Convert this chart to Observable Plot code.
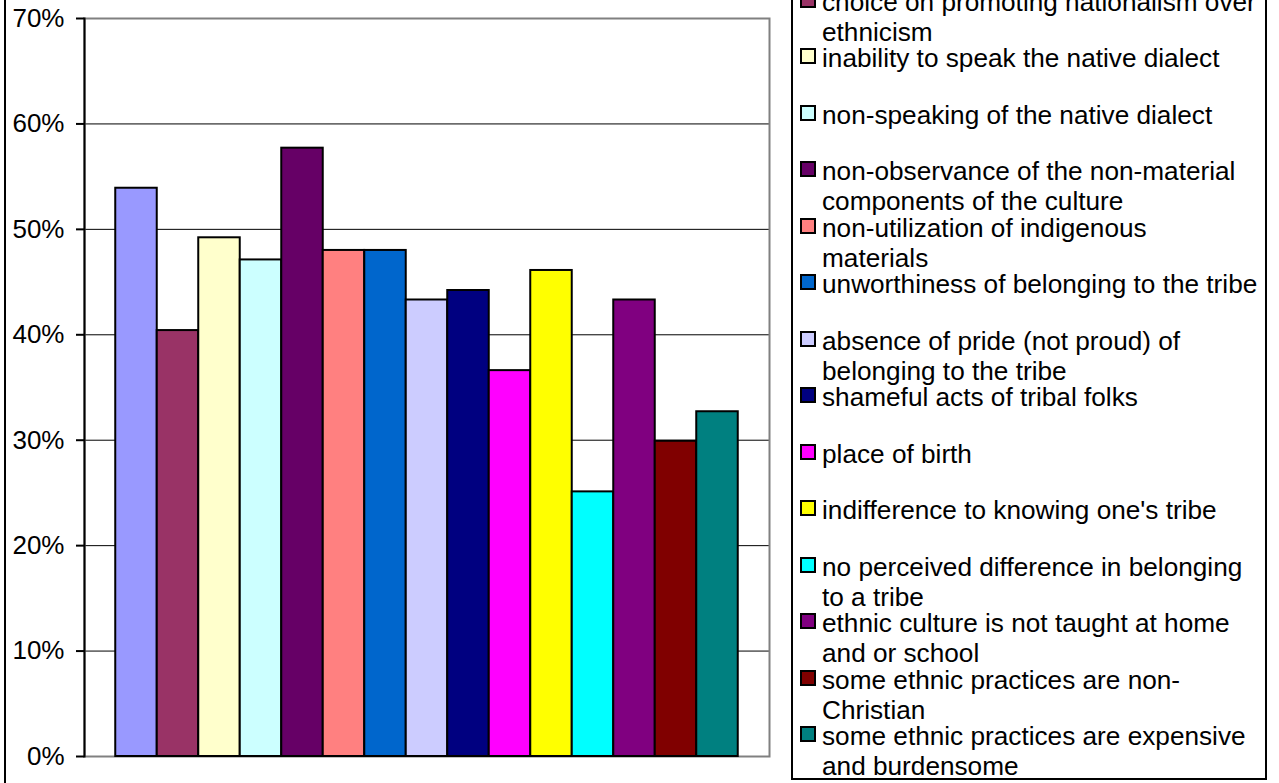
<!DOCTYPE html>
<html>
<head>
<meta charset="utf-8">
<script src="https://cdn.jsdelivr.net/npm/d3@7"></script>
<script src="https://cdn.jsdelivr.net/npm/@observablehq/plot@0.6"></script>
<style>
  html, body { margin: 0; padding: 0; background: #fff; overflow: hidden; }
  body { width: 1279px; height: 783px; position: relative; font-family: "Liberation Sans", Arial, sans-serif; }
  #chart { position: absolute; left: 0; top: 0; }
  #outer { position: absolute; left: 4px; top: -10px; width: 2px; height: 800px; background: #000; }
  #legend { position: absolute; left: 791px; top: -90px; width: 476px; height: 870px; box-sizing: border-box;
            border: 2px solid #000; background: #fff; }
  .item { position: absolute; left: 0; width: 470px; }
  .swatch { position: absolute; left: 7px; top: 5px; width: 16px; height: 16px; box-sizing: border-box; border: 2px solid #000; }
  .label { position: absolute; left: 29px; top: 0; width: 437px; font-size: 26.2px; line-height: 30px; color: #000; }
</style>
</head>
<body>
<div id="outer"></div>
<div id="chart"></div>
<div id="legend"></div>
<script>
// ---- data ----
const labels = [
  "",
  "choice on promoting nationalism over ethnicism",
  "inability to speak the native dialect",
  "non-speaking of the native dialect",
  "non-observance of the non-material components of the culture",
  "non-utilization of indigenous materials",
  "unworthiness of belonging to the tribe",
  "absence of pride (not proud) of belonging to the tribe",
  "shameful acts of tribal folks",
  "place of birth",
  "indifference to knowing one's tribe",
  "no perceived difference in belonging to a tribe",
  "ethnic culture is not taught at home and or school",
  "some ethnic practices are non-Christian",
  "some ethnic practices are expensive and burdensome"
];
const values = [0.539, 0.404, 0.492, 0.471, 0.577, 0.480, 0.480, 0.433, 0.442, 0.366, 0.461, 0.251, 0.433, 0.299, 0.327];
const colors = ["#9999FF", "#993366", "#FFFFCC", "#CCFFFF", "#660066", "#FF8080", "#0066CC", "#CCCCFF",
                "#000080", "#FF00FF", "#FFFF00", "#00FFFF", "#800080", "#800000", "#008080"];
const yTicks = [0, 0.1, 0.2, 0.3, 0.4, 0.5, 0.6, 0.7];
const gridTicks = [0.1, 0.2, 0.3, 0.4, 0.5, 0.6];

const data = values.map((v, i) => ({i, v, color: colors[i], label: labels[i]}));

const chart = Plot.plot({
  width: 790,
  height: 783,
  marginLeft: 84,
  marginRight: 21,
  marginTop: 18,
  marginBottom: 27,
  style: {fontFamily: "'Liberation Sans', Arial, sans-serif", fontSize: "26px", color: "#000", background: "transparent", overflow: "visible"},
  x: {type: "band", domain: data.map(d => d.i), paddingInner: 0, paddingOuter: 0.753, round: false, axis: null},
  y: {domain: [0, 0.7], axis: null},
  color: {type: "identity"},
  marks: [
    Plot.ruleY(gridTicks, {stroke: "#000", strokeWidth: 1}),
    Plot.frame({stroke: "#808080", strokeWidth: 2}),
    Plot.frame({anchor: "left", stroke: "#000", strokeWidth: 2}),
    Plot.axisY({ticks: yTicks, tickFormat: d3.format(".0%"), tickSize: 8, tickPadding: 12, strokeWidth: 2, stroke: "#000", label: null, fontSize: 26}),
    Plot.barY(data, {x: "i", y: "v", fill: "color", stroke: "#000", strokeWidth: 2, inset: 0})
  ]
});
document.getElementById("chart").appendChild(chart);

// ---- legend ----
const legend = document.getElementById("legend");
data.forEach((d, k) => {
  const item = document.createElement("div");
  item.className = "item";
  item.style.top = (18 + 56.5 * k) + "px";
  const sw = document.createElement("div");
  sw.className = "swatch";
  sw.style.background = d.color;
  const lb = document.createElement("div");
  lb.className = "label";
  lb.textContent = d.label;
  item.appendChild(sw);
  item.appendChild(lb);
  legend.appendChild(item);
});
</script>
</body>
</html>
